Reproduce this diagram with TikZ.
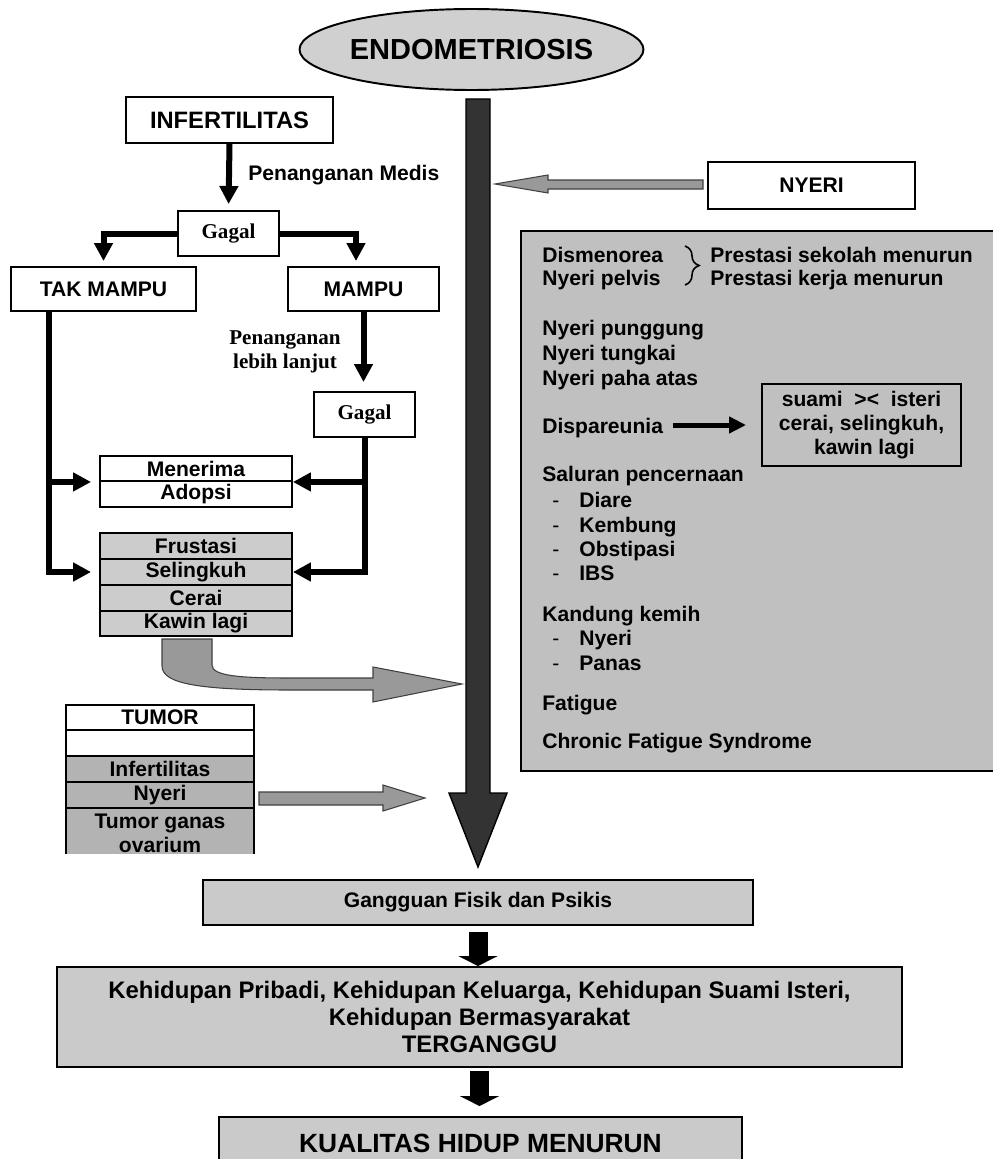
\documentclass[tikz,border=0pt]{standalone}
\usepackage{fontspec}
\setmainfont{Liberation Sans}
\newfontfamily\serifbold{Liberation Serif}
\usetikzlibrary{arrows.meta,shapes.geometric,decorations.pathreplacing,calc}
\definecolor{ovalgray}{HTML}{D0D0D0}
\definecolor{panelgray}{HTML}{C0C0C0}
\definecolor{rowgray}{HTML}{CCCCCC}
\definecolor{tablegray}{HTML}{B3B3B3}
\definecolor{arrowgray}{HTML}{999999}
\definecolor{shaftgray}{HTML}{333333}
\definecolor{bottomgray}{HTML}{CACACA}
\tikzset{
	box/.style={draw, line width=1.1pt, fill=white, inner sep=0pt, align=center, font=\bfseries\fontsize{12}{13.6}\selectfont},
	graybox/.style={box, fill=rowgray},
	gagalbox/.style={box, minimum width=2.02cm, minimum height=0.9cm, font=\serifbold\bfseries\fontsize{12}{14}\selectfont},
	item/.style={anchor=base west, inner sep=0pt, font=\bfseries\fontsize{12}{14}\selectfont},
	blkarrow/.style={line width=0.12cm, -{Triangle[length=0.36cm,width=0.36cm]}},
	fatarrow/.style={line width=0.38cm, -{Triangle[length=0.2cm,width=0.78cm]}},
	blockarrow/.style={fill=arrowgray, draw=black!75, line width=0.6pt},
}
\begin{document}
\begin{tikzpicture}[x=0.02cm, y=-0.02cm]
	\clip (0,0) rectangle (993,1159);
	% symptom panel, cut by the right edge
	\draw[line width=1.1pt, fill=panelgray] (521,231) rectangle (1010,771);
	% central arrow
	\draw[fill=shaftgray, line width=0.8pt] (466,99) -- (490,99) -- (490,793) -- (507,793) -- (478,867) -- (449,793) -- (466,793) -- cycle;
	\node[ellipse, draw, line width=1.1pt, fill=ovalgray, inner sep=0pt, minimum width=5.94cm, minimum height=1.62cm, font=\bfseries\fontsize{16.5}{18}\selectfont] (endo) at (471.5,49.5) {ENDOMETRIOSIS};

	% infertilitas
	\node[box, minimum width=4.14cm, minimum height=0.92cm, font=\bfseries\fontsize{13.5}{15}\selectfont] (infert) at (229.5,120) {INFERTILITAS};
	\node[item] (medis) at (248,180) {Penanganan Medis};
	\node[gagalbox] (gagalA) at (228.5,233.5) {Gagal};
	\node[box, minimum width=3.7cm, minimum height=0.88cm] (takmampu) at (103.5,289) {TAK MAMPU};
	\node[box, minimum width=3.02cm, minimum height=0.88cm] (mampu) at (363.5,289) {MAMPU};
	\node[align=center, inner sep=0pt, font=\serifbold\bfseries\fontsize{12}{13.6}\selectfont] (lanjut) at (285,352) {Penanganan\\lebih lanjut};
	\node[gagalbox] (gagalB) at (364.5,414.5) {Gagal};
	\node[box, minimum width=3.84cm, minimum height=0.5cm] (menerima) at (196,468.5) {Menerima};
	\node[box, minimum width=3.84cm, minimum height=0.52cm] (adopsi) at (196,494) {Adopsi};
	\node[graybox, minimum width=3.84cm, minimum height=0.52cm] (frustasi) at (196,546) {Frustasi};
	\node[graybox, minimum width=3.84cm, minimum height=0.52cm] (selingkuh) at (196,572) {Selingkuh};
	\node[graybox, minimum width=3.84cm, minimum height=0.52cm] (cerai) at (196,598) {Cerai};
	\node[graybox, minimum width=3.84cm, minimum height=0.5cm] (kawin) at (196,623.5) {Kawin lagi};
	\coordinate (tl) at (49,311);

	\draw[blkarrow, shorten >=0.12cm] (infert.south) -- (gagalA.north);
	\draw[blkarrow, shorten >=0.1cm] (gagalA.west) -| (takmampu.north);
	\draw[blkarrow, shorten >=0.1cm] (gagalA.east) -| ($(mampu.north)+(-7.5,0)$);
	\draw[blkarrow, shorten >=0.18cm] (mampu.south) -- (mampu.south |- gagalB.north);
	\draw[blkarrow, shorten >=0.16cm] (tl) |- (menerima.south west);
	\draw[blkarrow, shorten >=0.16cm] (tl) |- (selingkuh.west);
	\draw[blkarrow] (gagalB.south) |- (menerima.south east);
	\draw[blkarrow] (gagalB.south) |- (selingkuh.east);

	% bent arrow into the centre
	\draw[blockarrow] (162,639) -- (212,639) -- (212,665) .. controls (212,676) and (240,678) .. (290,678) -- (373,678) -- (373,667) -- (462,684) -- (373,702) -- (373,690) -- (290,690) .. controls (200,690) and (162,684) .. (162,666) -- cycle;

	% tumor table, cut off at the bottom
	\begin{scope}
		\clip (50,690) rectangle (270,853);
		\node[box, minimum width=3.76cm, minimum height=0.5cm] (tumor) at (160,717.5) {TUMOR};
		\node[box, minimum width=3.76cm, minimum height=0.52cm] (tblank) at (160,743) {};
		\node[box, fill=tablegray, minimum width=3.76cm, minimum height=0.52cm] (tinfert) at (160,769) {Infertilitas};
		\node[box, fill=tablegray, minimum width=3.76cm, minimum height=0.52cm] (tnyeri) at (160,795) {Nyeri};
		\node[box, fill=tablegray, minimum width=3.76cm, minimum height=1cm] (tganas) at (160,833) {Tumor ganas\\ovarium};
	\end{scope}
	\draw[blockarrow] (259,792) -- (383,792) -- (383,785) -- (425,798) -- (383,811) -- (383,805) -- (259,805) -- cycle;

	% nyeri
	\node[box, minimum width=4.14cm, minimum height=0.94cm] (nyeri) at (811.5,185.5) {NYERI};
	\draw[blockarrow] (703,180) -- (548,180) -- (548,175) -- (495,184) -- (548,193) -- (548,189) -- (703,189) -- cycle;

	\foreach \yy/\txt [count=\i] in {262.6/Dismenorea, 285.6/Nyeri pelvis, 335.6/Nyeri punggung, 360.6/Nyeri tungkai, 385.6/Nyeri paha atas, 481.6/Saluran pencernaan, 621.6/Kandung kemih, 710.6/Fatigue, 748.6/Chronic Fatigue Syndrome}
		\node[item] (sym\i) at (542,\yy) {\txt};
	\foreach \yy/\txt [count=\i] in {507.6/Diare, 532.6/Kembung, 556.6/Obstipasi, 580.6/IBS, 645.6/Nyeri, 670.6/Panas} {
		\node[item, font=\fontsize{12}{14}\selectfont] (dash\i) at (552,\yy) {-};
		\node[item] (sub\i) at (579,\yy) {\txt};
	}
	\node[item] (sekolah) at (710,262.6) {Prestasi sekolah menurun};
	\node[item] (kerja) at (710,285.6) {Prestasi kerja menurun};
	\draw[line width=0.9pt, decorate, decoration={brace, amplitude=0.28cm}] (685,246) -- (685,285);
	\node[item] (dispa) at (542,433.6) {Dispareunia};
	\node[box, fill=panelgray, minimum width=3.98cm, minimum height=1.64cm] (suami) at (861.5,425) {suami~~><~~isteri\\cerai, selingkuh,\\\ kawin lagi};
	\draw[line width=0.1cm, -{Triangle[length=0.34cm,width=0.32cm]}, shorten <=0.2cm, shorten >=0.3cm] (dispa.east |- suami.west) -- (suami.west);

	% bottom chain
	\node[box, fill=bottomgray, minimum width=11cm, minimum height=0.9cm] (gangguan) at (478,902.5) {Gangguan Fisik dan Psikis};
	\node[box, fill=bottomgray, minimum width=16.9cm, minimum height=2cm, font=\bfseries\fontsize{13.6}{15.6}\selectfont] (kehidupan) at (479.5,1017) {Kehidupan Pribadi, Kehidupan Keluarga, Kehidupan Suami Isteri,\\Kehidupan Bermasyarakat\\TERGANGGU};
	\node[box, fill=bottomgray, minimum width=10.46cm, minimum height=1.04cm, font=\bfseries\fontsize{15}{17}\selectfont] (kualitas) at (480.5,1143) {KUALITAS HIDUP MENURUN};
	\draw[fatarrow, shorten <=0.12cm] (gangguan.south) -- (gangguan.south |- kehidupan.north);
	\draw[fatarrow, shorten <=0.06cm, shorten >=0.2cm] (kehidupan.south) -- (kehidupan.south |- kualitas.north);
\end{tikzpicture}
\end{document}
